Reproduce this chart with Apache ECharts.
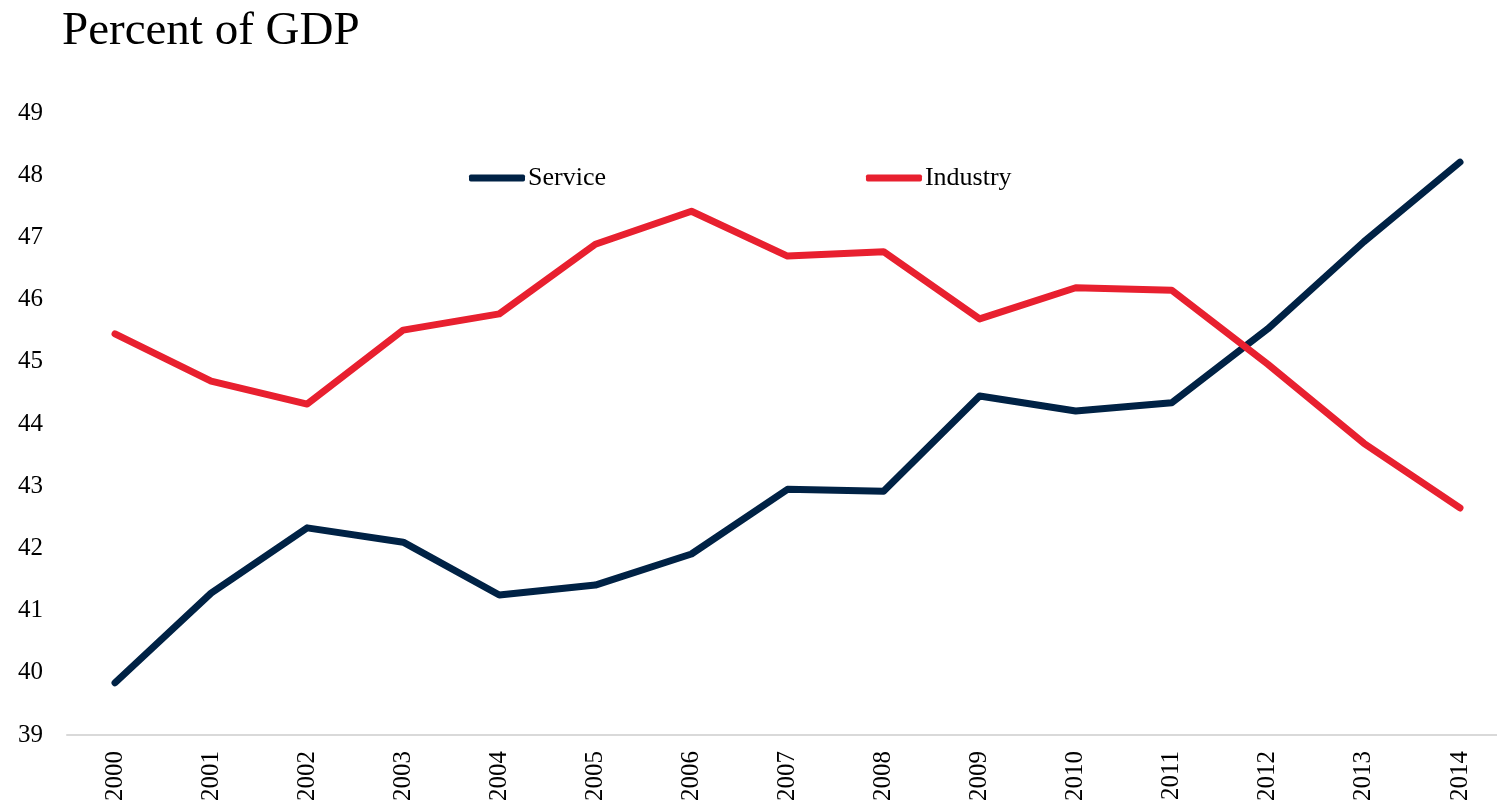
<!DOCTYPE html>
<html>
<head>
<meta charset="utf-8">
<style>
  html, body { margin: 0; padding: 0; background: #fff; }
  #chart { width: 1497px; height: 806px; }
</style>
<script src="https://cdn.jsdelivr.net/npm/echarts@6/dist/echarts.min.js"></script>
</head>
<body>
<div id="chart"></div>
<script>
// Sector shares of GDP, 2000–2014
const years = ['2000','2001','2002','2003','2004','2005','2006','2007','2008','2009','2010','2011','2012','2013','2014'];
const service = [39.84, 41.28, 42.33, 42.10, 41.25, 41.41, 41.91, 42.95, 42.92, 44.45, 44.21, 44.34, 45.53, 46.93, 48.21];
const industry = [45.45, 44.69, 44.32, 45.51, 45.77, 46.89, 47.42, 46.70, 46.77, 45.69, 46.19, 46.15, 44.96, 43.69, 42.65];
const yMin = 39, yMax = 49, yStep = 1;

const font = '"Liberation Serif", "Times New Roman", serif';
const chart = echarts.init(document.getElementById('chart'));

chart.setOption({
  animation: false,
  title: {
    text: 'Percent of GDP',
    left: 57, top: 3,
    textStyle: { fontFamily: font, fontSize: 47, fontWeight: 'normal', color: '#000' }
  },
  legend: {
    left: 464, top: 160,
    itemWidth: 56, itemHeight: 7, itemGap: 260,
    icon: 'roundRect',
    textStyle: { fontFamily: font, fontSize: 26, color: '#000', padding: [0, 0, 0, -2] },
    data: ['Service', 'Industry']
  },
  grid: {
    left: 67, top: 113, width: 1441, height: 622,
    containLabel: false, outerBoundsMode: 'none'
  },
  xAxis: {
    type: 'category',
    data: years,
    boundaryGap: true,
    axisLine: { lineStyle: { color: '#d9d9d9', width: 2 } },
    axisTick: { show: false },
    axisLabel: { rotate: 90, margin: 16, fontFamily: font, fontSize: 25, color: '#000' }
  },
  yAxis: {
    type: 'value',
    min: yMin, max: yMax, interval: yStep,
    splitLine: { show: false },
    axisLine: { show: false },
    axisTick: { show: false },
    axisLabel: { margin: 24, fontFamily: font, fontSize: 25, color: '#000' }
  },
  series: [
    {
      name: 'Service', type: 'line', data: service,
      showSymbol: false, symbol: 'none',
      lineStyle: { color: '#002245', width: 7, cap: 'round', join: 'round' },
      itemStyle: { color: '#002245' }
    },
    {
      name: 'Industry', type: 'line', data: industry,
      showSymbol: false, symbol: 'none',
      lineStyle: { color: '#e8202f', width: 7, cap: 'round', join: 'round' },
      itemStyle: { color: '#e8202f' }
    }
  ]
});
</script>
</body>
</html>
